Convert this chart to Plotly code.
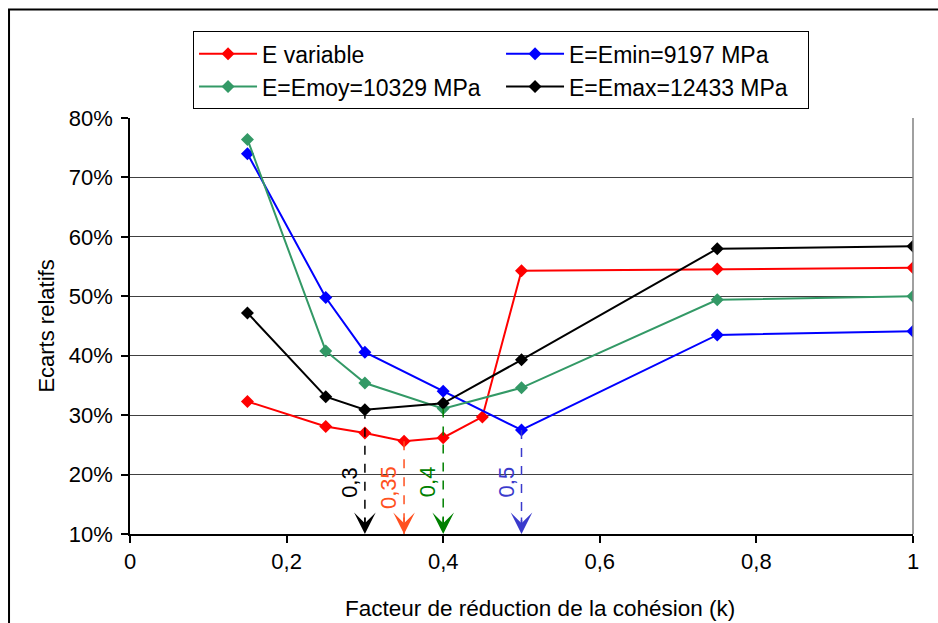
import plotly.graph_objects as go

# ---- data ----
k_var = [0.15, 0.25, 0.30, 0.35, 0.40, 0.45, 0.50, 0.75, 1.00]
e_variable = [32.3, 28.1, 27.0, 25.6, 26.2, 29.7, 54.3, 54.6, 54.8]

k_const = [0.15, 0.25, 0.30, 0.40, 0.50, 0.75, 1.00]
e_min = [74.0, 49.8, 40.6, 34.0, 27.5, 43.5, 44.1]
e_moy = [76.4, 40.8, 35.4, 31.1, 34.6, 49.4, 50.0]
e_max = [47.2, 33.1, 30.9, 32.0, 39.3, 58.0, 58.4]

series_names = ["E variable", "E=Emin=9197 MPa", "E=Emoy=10329 MPa", "E=Emax=12433 MPa"]
series_x = [k_var, k_const, k_const, k_const]
series_y = [e_variable, e_min, e_moy, e_max]
line_colors = ["#FF0000", "#0000FF", "#339966", "#000000"]
arrow_colors = ["#FF5020", "#3A3ACC", "#008000", "#000000"]

x_tickvals = [0, 0.2, 0.4, 0.6, 0.8, 1]
x_ticktext = ["0", "0,2", "0,4", "0,6", "0,8", "1"]
y_tickvals = [10, 20, 30, 40, 50, 60, 70, 80]
y_ticktext = ["10%", "20%", "30%", "40%", "50%", "60%", "70%", "80%"]

FONT = "Liberation Sans, Arial, sans-serif"
FS = 22

fig = go.Figure()
for name, xs, ys, col in zip(series_names, series_x, series_y, line_colors):
    fig.add_trace(go.Scatter(
        x=xs, y=ys, name=name, mode="lines+markers",
        line=dict(color=col, width=2),
        marker=dict(symbol="diamond", size=10, color=col),
    ))

y_bottom = y_tickvals[0]
annotations = []
shapes = []
for xs, ys, col in zip(series_x, series_y, arrow_colors):
    i = ys.index(min(ys))
    xm, ym = xs[i], ys[i]
    # dashed drop line
    shapes.append(dict(type="line", xref="x", yref="y", x0=xm, x1=xm, y0=ym, y1=y_bottom,
                       line=dict(color=col, width=1.5, dash="dash"), layer="above"))
    # arrow head
    annotations.append(dict(x=xm, y=y_bottom, xref="x", yref="y", ax=0, ay=-18,
                            text="", showarrow=True, arrowhead=3, arrowsize=2.4,
                            arrowwidth=1.5, arrowcolor=col, standoff=0))
    # rotated value label
    annotations.append(dict(x=xm, y=21.7, xref="x", yref="y", xshift=-15,
                            text=f"{xm:g}".replace(".", ","), textangle=-90,
                            showarrow=False, xanchor="center", yanchor="top",
                            font=dict(family=FONT, size=FS, color=col)))

# x axis title (slightly right of the plot centre in the reference)
annotations.append(dict(x=0.5236, y=-0.18, xref="paper", yref="paper",
                        text="Facteur de réduction de la cohésion (k)", showarrow=False,
                        xanchor="center", yanchor="middle",
                        font=dict(family=FONT, size=22.5, color="#000000")))

# right border of plot area (grey)
shapes.append(dict(type="line", xref="paper", yref="paper", x0=1, x1=1, y0=0, y1=1,
                   line=dict(color="#808080", width=1.5)))
# outer chart frame
shapes.append(dict(type="rect", xref="paper", yref="paper",
                   x0=-0.1545, x1=1.04, y0=-0.23, y1=1.2608,
                   line=dict(color="#000000", width=2), fillcolor="rgba(0,0,0,0)"))

fig.update_layout(
    width=938, height=623,
    margin=dict(l=130, r=25, t=118, b=89),
    paper_bgcolor="white", plot_bgcolor="white",
    separators=", ",
    font=dict(family=FONT, size=FS, color="#000000"),
    showlegend=True,
    legend=dict(
        orientation="h", x=0.0805, y=1.2087, xanchor="left", yanchor="top",
        bordercolor="#000000", borderwidth=1, bgcolor="white",
        itemwidth=58, entrywidth=234, entrywidthmode="pixels",
        font=dict(family=FONT, size=23), tracegroupgap=0,
    ),
    xaxis=dict(
        range=[0, 1], tickvals=x_tickvals, ticktext=x_ticktext,
        showgrid=False, zeroline=False,
        showline=True, linecolor="#000000", linewidth=1.5,
        ticks="outside", ticklen=7, tickcolor="#000000", tickwidth=1.5,
        tickfont=dict(family=FONT, size=FS),
    ),
    yaxis=dict(
        range=[10, 80], tickvals=y_tickvals, ticktext=y_ticktext,
        showgrid=True, gridcolor="#404040", gridwidth=1, zeroline=False,
        showline=True, linecolor="#000000", linewidth=1.5,
        ticks="outside", ticklen=7, tickcolor="#000000", tickwidth=1.5,
        tickfont=dict(family=FONT, size=FS), ticklabelstandoff=4,
        title=dict(text="Ecarts relatifs", font=dict(family=FONT, size=FS), standoff=8),
    ),
    annotations=annotations,
    shapes=shapes,
)

fig.write_html("out.html", config={"displayModeBar": False},
               post_script="document.body.style.margin='0';document.body.style.padding='0';")
